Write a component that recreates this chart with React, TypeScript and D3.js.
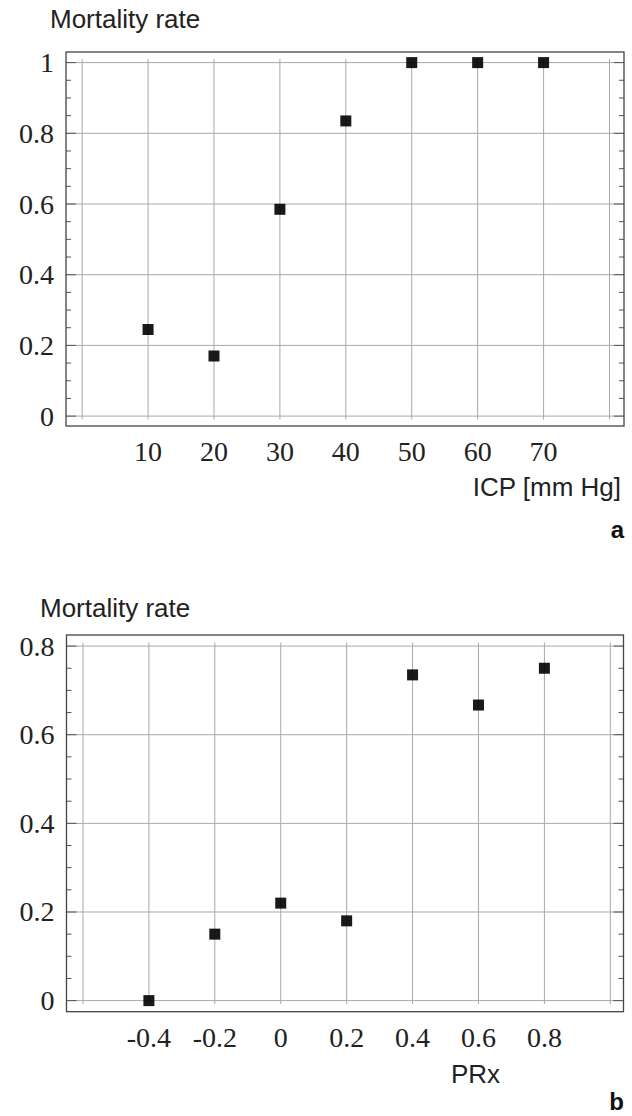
import React, { useEffect, useRef } from "react";
import * as d3 from "d3";

// panel a: mortality vs ICP
const icpValues = [10, 20, 30, 40, 50, 60, 70];
const icpMortality = [0.245, 0.17, 0.585, 0.835, 1, 1, 1];
const icpGrid = [0, 10, 20, 30, 40, 50, 60, 70, 80];
const icpLabels = [10, 20, 30, 40, 50, 60, 70];
const icpYTicks = [0, 0.2, 0.4, 0.6, 0.8, 1];

// panel b: mortality vs PRx
const prxValues = [-0.4, -0.2, 0, 0.2, 0.4, 0.6, 0.8];
const prxMortality = [0, 0.15, 0.22, 0.18, 0.735, 0.667, 0.75];
const prxGrid = [-0.6, -0.4, -0.2, 0, 0.2, 0.4, 0.6, 0.8, 1.0];
const prxLabels = [-0.4, -0.2, 0, 0.2, 0.4, 0.6, 0.8];
const prxYTicks = [0, 0.2, 0.4, 0.6, 0.8];

const fmt = (d) => String(+d.toFixed(1));

function drawPanel(svg, cfg) {
  const { xs, ys, data, grid, labels, yTicks, yMinorStep, title, xTitle, letter } = cfg;
  const [left, right] = xs.range();
  const [bottom, top] = ys.range();
  const g = svg.append("g");

  const yTop = ys(d3.max(yTicks));
  const y0 = ys(0);

  // grid
  g.selectAll(".hgrid")
    .data(yTicks)
    .enter()
    .append("line")
    .attr("x1", left)
    .attr("x2", right)
    .attr("y1", (d) => ys(d))
    .attr("y2", (d) => ys(d))
    .attr("stroke", "#a8a8a8")
    .attr("stroke-width", 1);

  g.selectAll(".vgrid")
    .data(grid)
    .enter()
    .append("line")
    .attr("x1", (d) => xs(d))
    .attr("x2", (d) => xs(d))
    .attr("y1", yTop - 3.5)
    .attr("y2", y0 + 3.5)
    .attr("stroke", "#a8a8a8")
    .attr("stroke-width", 1);

  // minor + major ticks on left and right frame, pointing inward
  const minor = d3.range(0, d3.max(yTicks) + 1e-9, yMinorStep);
  const isMajor = (v) => yTicks.some((t) => Math.abs(t - v) < 1e-6);
  [left, right].forEach((xf, side) => {
    const dir = side === 0 ? 1 : -1;
    g.selectAll(null)
      .data(minor)
      .enter()
      .append("line")
      .attr("x1", xf)
      .attr("x2", (d) => xf + dir * (isMajor(d) ? 10 : 5))
      .attr("y1", (d) => ys(d))
      .attr("y2", (d) => ys(d))
      .attr("stroke", "#555")
      .attr("stroke-width", 1);
  });

  // frame
  g.append("rect")
    .attr("x", left)
    .attr("y", top)
    .attr("width", right - left)
    .attr("height", bottom - top)
    .attr("fill", "none")
    .attr("stroke", "#444")
    .attr("stroke-width", 1.3);

  // points
  g.selectAll(".pt")
    .data(data)
    .enter()
    .append("rect")
    .attr("x", (d) => xs(d[0]) - 5.5)
    .attr("y", (d) => ys(d[1]) - 5.5)
    .attr("width", 11)
    .attr("height", 11)
    .attr("fill", "#000")
    .attr("fill-opacity", 0.9);

  // tick labels
  g.selectAll(".ylab")
    .data(yTicks)
    .enter()
    .append("text")
    .attr("x", left - 12)
    .attr("y", (d) => ys(d) + 9.5)
    .attr("text-anchor", "end")
    .attr("font-family", "Liberation Serif, serif")
    .attr("font-size", 28)
    .attr("fill", "#222")
    .text(fmt);

  g.selectAll(".xlab")
    .data(labels)
    .enter()
    .append("text")
    .attr("x", (d) => xs(d))
    .attr("y", bottom + 35)
    .attr("text-anchor", "middle")
    .attr("font-family", "Liberation Serif, serif")
    .attr("font-size", 28)
    .attr("fill", "#222")
    .text(fmt);

  // titles
  g.append("text")
    .attr("x", title.x)
    .attr("y", title.y)
    .attr("font-family", "Liberation Sans, Arial, sans-serif")
    .attr("font-size", 26)
    .attr("fill", "#222")
    .text("Mortality rate");

  g.append("text")
    .attr("x", xTitle.x)
    .attr("y", xTitle.y)
    .attr("text-anchor", xTitle.anchor)
    .attr("font-family", "Liberation Sans, Arial, sans-serif")
    .attr("font-size", 26)
    .attr("fill", "#222")
    .text(xTitle.text);

  g.append("text")
    .attr("x", 624)
    .attr("y", letter.y)
    .attr("text-anchor", "end")
    .attr("font-family", "Liberation Sans, Arial, sans-serif")
    .attr("font-size", 24)
    .attr("font-weight", "bold")
    .attr("fill", "#111")
    .text(letter.text);
}

const App = () => {
  const svgRef = useRef();

  useEffect(() => {
    const svg = d3.select(svgRef.current);
    svg.selectAll("*").remove();

    const xa = d3.scaleLinear().domain([-2.45, 82.2]).range([66, 624]);
    const ya = d3.scaleLinear().domain([-0.028, 1.03]).range([426, 52]);
    drawPanel(svg, {
      xs: xa,
      ys: ya,
      data: icpValues.map((v, i) => [v, icpMortality[i]]),
      grid: icpGrid,
      labels: icpLabels,
      yTicks: icpYTicks,
      yMinorStep: 0.05,
      title: { x: 50, y: 28 },
      xTitle: { x: 621, y: 496, anchor: "end", text: "ICP [mm Hg]" },
      letter: { y: 538, text: "a" },
    });

    const xb = d3.scaleLinear().domain([-0.65, 1.04]).range([66.5, 623.5]);
    const yb = d3.scaleLinear().domain([-0.025, 0.825]).range([1011.7, 635]);
    drawPanel(svg, {
      xs: xb,
      ys: yb,
      data: prxValues.map((v, i) => [v, prxMortality[i]]),
      grid: prxGrid,
      labels: prxLabels,
      yTicks: prxYTicks,
      yMinorStep: 0.05,
      title: { x: 40, y: 617 },
      xTitle: { x: 451, y: 1083, anchor: "start", text: "PRx" },
      letter: { y: 1110, text: "b" },
    });
  }, []);

  return (
    <svg
      ref={svgRef}
      width={632}
      height={1116}
      style={{ position: "absolute", left: 0, top: 0, background: "#fff" }}
    />
  );
};

export default App;
